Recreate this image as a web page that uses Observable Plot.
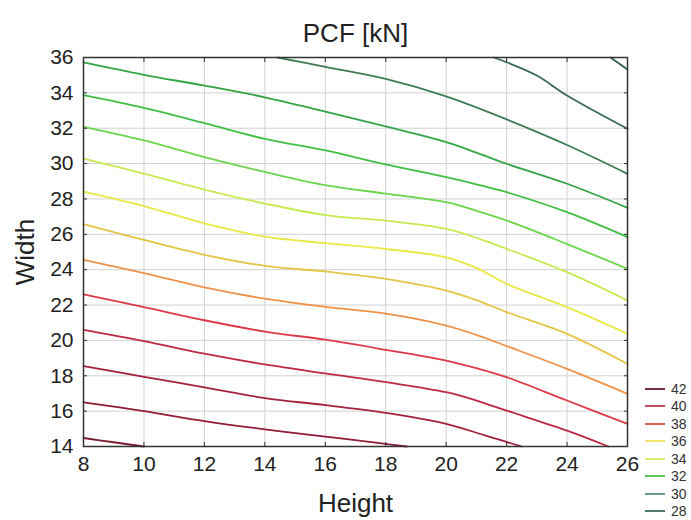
<!DOCTYPE html>
<html>
<head>
<meta charset="utf-8">
<script src="https://cdn.jsdelivr.net/npm/d3@7"></script>
<script src="https://cdn.jsdelivr.net/npm/@observablehq/plot@0.6"></script>
<style>
  body { margin: 0; background: #fff; font-family: "Liberation Sans", Arial, sans-serif; }
  #wrap { position: relative; width: 691px; height: 520px; }
  #legend { position: absolute; left: 645px; top: 380px; }
  .item { display: flex; align-items: center; height: 17.5px; font-size: 14px; color: #333; }
  .swatch { width: 20px; height: 0; border-top: 2px solid; margin-right: 6px; }
</style>
</head>
<body>
<div id="wrap"></div>
<script>
// Axis ticks
const xTicks = [8, 10, 12, 14, 16, 18, 20, 22, 24, 26];
const yTicks = [14, 16, 18, 20, 22, 24, 26, 28, 30, 32, 34, 36];

// Contour lines (Height -> Width)
const fullHeights = [8, 10, 12, 14, 16, 18, 20, 21, 22, 24, 26];
const line1 = [35.72, 35.02, 34.41, 33.75, 32.94, 32.1, 31.21, 30.62, 29.99, 28.86, 27.5];
const line2 = [33.87, 33.15, 32.29, 31.4, 30.75, 29.95, 29.23, 28.83, 28.38, 27.25, 25.84];
const line3 = [32.08, 31.31, 30.37, 29.53, 28.78, 28.3, 27.82, 27.33, 26.78, 25.45, 24.05];
const line4 = [30.28, 29.43, 28.53, 27.74, 27.09, 26.77, 26.31, 25.8, 25.18, 23.86, 22.26];
const line5 = [28.42, 27.6, 26.62, 25.87, 25.5, 25.17, 24.7, 24.1, 23.2, 21.88, 20.37];
const line6 = [26.58, 25.68, 24.84, 24.22, 23.9, 23.48, 22.82, 22.28, 21.6, 20.37, 18.67];
const line7 = [24.56, 23.81, 23.0, 22.36, 21.9, 21.51, 20.84, 20.31, 19.68, 18.39, 16.98];
const line8 = [22.6, 21.88, 21.14, 20.5, 20.04, 19.47, 18.86, 18.43, 17.92, 16.6, 15.28];
const line9Heights = [8, 10, 12, 14, 16, 18, 20, 21, 22, 24, 25.37];
const line9 = [20.6, 19.96, 19.25, 18.64, 18.13, 17.64, 17.07, 16.6, 16.03, 14.9, 14.0];
const line10Heights = [8, 10, 12, 14, 16, 18, 20, 21.3, 22.5];
const line10 = [18.55, 17.94, 17.35, 16.74, 16.34, 15.9, 15.28, 14.62, 14.0];
const line11Heights = [8, 10, 12, 14, 16, 17.8, 18.7];
const line11 = [16.5, 16.0, 15.44, 14.97, 14.56, 14.19, 14.0];
const line12Heights = [8, 9, 10];
const line12 = [14.48, 14.24, 14.0];
const top1Heights = [14.42, 16, 18, 20, 22, 24, 26];
const top1 = [36.0, 35.47, 34.79, 33.8, 32.5, 31.05, 29.42];
const top2Heights = [21.58, 22, 23, 24, 26];
const top2 = [36.0, 35.73, 34.98, 33.85, 31.97];
const top3Heights = [25.44, 26];
const top3 = [36.0, 35.32];

const lineColors = {
  top3: "#2f5c4e", top2: "#3a6a58", top1: "#3d7c55",
  line1: "#33a544", line2: "#41bf45", line3: "#6bd64c", line4: "#c6ea52",
  line5: "#e9e845", line6: "#e6c445", line7: "#f0914a", line8: "#dc3a48",
  line9: "#bd2843", line10: "#a3213c", line11: "#8f1e36", line12: "#7a1a2f"
};

// Legend
const legendLabels = ["42", "40", "38", "36", "34", "32", "30", "28"];
const legendColors = ["#7a3040", "#c04f60", "#dc6258", "#f0e66e", "#d6ef6c", "#5fc75f", "#6a9a80", "#4a7a6a"];

const seriesDefs = [
  ["line1", fullHeights, line1], ["line2", fullHeights, line2], ["line3", fullHeights, line3],
  ["line4", fullHeights, line4], ["line5", fullHeights, line5], ["line6", fullHeights, line6],
  ["line7", fullHeights, line7], ["line8", fullHeights, line8], ["line9", line9Heights, line9],
  ["line10", line10Heights, line10], ["line11", line11Heights, line11], ["line12", line12Heights, line12],
  ["top1", top1Heights, top1], ["top2", top2Heights, top2], ["top3", top3Heights, top3]
];
const rows = seriesDefs.flatMap(([name, hs, ws]) => hs.map((h, i) => ({name, h, w: ws[i]})));

const font = "'Liberation Sans', Arial, sans-serif";
const chart = Plot.plot({
  width: 691, height: 520,
  marginLeft: 83, marginRight: 64, marginTop: 57, marginBottom: 74,
  x: {domain: [8, 26]},
  y: {domain: [14, 36]},
  color: {domain: Object.keys(lineColors), range: Object.values(lineColors)},
  style: {fontFamily: font, color: "#222", background: "#fff"},
  marks: [
    Plot.gridX(xTicks, {stroke: "#d2d2d2", strokeOpacity: 1, strokeWidth: 1}),
    Plot.gridY(yTicks, {stroke: "#d2d2d2", strokeOpacity: 1, strokeWidth: 1}),
    Plot.line(rows, {x: "h", y: "w", z: "name", stroke: "name", strokeWidth: 1.8, curve: "catmull-rom"}),
    Plot.frame({stroke: "#333", strokeWidth: 1.5}),
    Plot.axisX(xTicks, {anchor: "bottom", tickSize: 0, tickPadding: 10, fontSize: 21, fill: "#222", label: null}),
    Plot.axisY(yTicks, {anchor: "left", tickSize: 0, tickPadding: 10, fontSize: 21, fill: "#222", label: null}),
    Plot.axisX(xTicks, {anchor: "bottom", tickSize: 4, dy: -4, tickFormat: () => "", label: null, stroke: "#333"}),
    Plot.axisX(xTicks, {anchor: "top", tickSize: 4, dy: 4, tickFormat: () => "", label: null, stroke: "#333"}),
    Plot.axisY(yTicks, {anchor: "left", tickSize: 4, dx: 4, tickFormat: () => "", label: null, stroke: "#333"}),
    Plot.axisY(yTicks, {anchor: "right", tickSize: 4, dx: -4, tickFormat: () => "", label: null, stroke: "#333"}),
    Plot.text(["PCF [kN]"], {frameAnchor: "top", dy: -34, text: d => d, fontSize: 26, fill: "#222"}),
    Plot.text(["Height"], {frameAnchor: "bottom", dy: 65, text: d => d, fontSize: 26, fill: "#222"}),
    Plot.text(["Width"], {frameAnchor: "left", dx: -58, rotate: -90, textAnchor: "middle", text: d => d, fontSize: 26, fill: "#222"})
  ]
});

const wrap = document.getElementById("wrap");
wrap.appendChild(chart);

const legend = document.createElement("div");
legend.id = "legend";
legendLabels.forEach((lab, i) => {
  const item = document.createElement("div");
  item.className = "item";
  const sw = document.createElement("span");
  sw.className = "swatch";
  sw.style.borderTopColor = legendColors[i];
  const tx = document.createElement("span");
  tx.textContent = lab;
  item.appendChild(sw);
  item.appendChild(tx);
  legend.appendChild(item);
});
wrap.appendChild(legend);
</script>
</body>
</html>
